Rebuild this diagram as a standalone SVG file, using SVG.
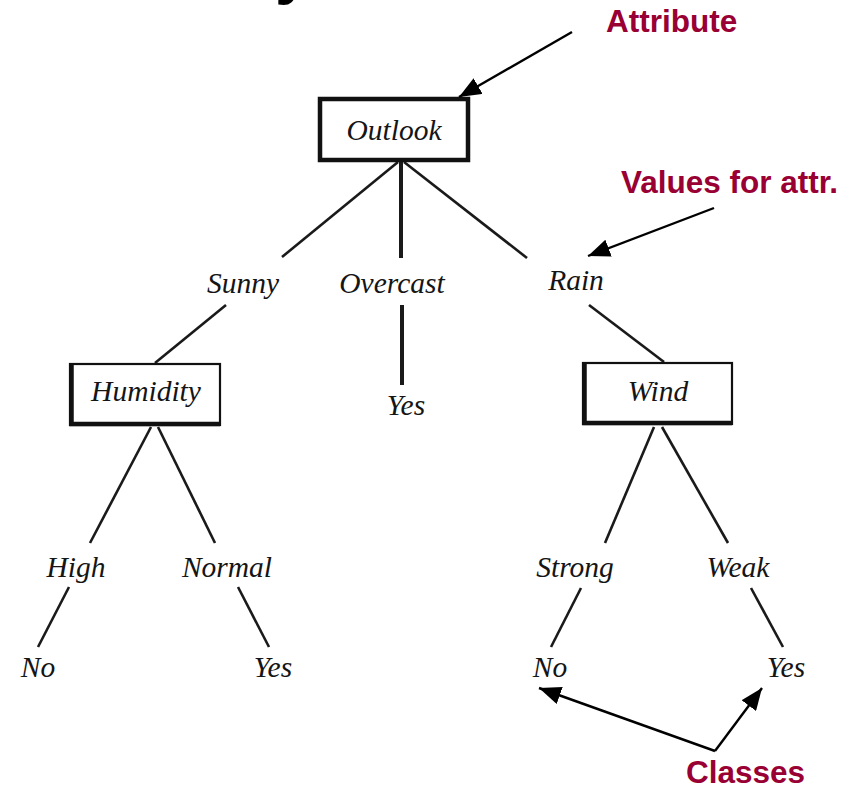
<svg xmlns="http://www.w3.org/2000/svg" width="859" height="788" viewBox="0 0 859 788">
  <style>
    .lbl { font-family: "Liberation Serif", "Times New Roman", serif; font-style: italic; font-size: 29.5px; fill: #151515; text-anchor: middle; }
    .note { font-family: "Liberation Sans", Arial, sans-serif; font-weight: bold; font-size: 31.5px; fill: #990033; }
    .edge { stroke: #1a1a1a; stroke-width: 2.6; fill: none; stroke-linecap: butt; }
    .thick { stroke-width: 4; }
    .box { fill: #ffffff; stroke: #111; stroke-width: 2.2; }
    .boxedge { stroke: #111; stroke-width: 4.5; fill: none; }
    .ptr { stroke: #000; stroke-width: 2.4; fill: none; }
  </style>
  <defs>
    <marker id="head" markerUnits="userSpaceOnUse" markerWidth="24" markerHeight="18" refX="22" refY="9" orient="auto">
      <path d="M0,0 L22,9 L0,18 Z" fill="#000"/>
    </marker>
  </defs>

  <rect width="859" height="788" fill="#ffffff"/>

  <!-- heading above the tree, clipped by the top edge -->
  <g id="title">
    <text x="275" y="-8" font-family="Liberation Sans, Arial, sans-serif" font-weight="bold" font-size="64" fill="#000">y</text>
  </g>

  <!-- tree branches -->
  <g id="connectors">
    <line class="edge" x1="398" y1="162" x2="282" y2="257"/>
    <line class="edge thick" x1="401" y1="162" x2="401" y2="258"/>
    <line class="edge" x1="404" y1="162" x2="527" y2="258"/>
    <line class="edge" x1="226" y1="305" x2="155" y2="363"/>
    <line class="edge thick" x1="402" y1="305" x2="402" y2="385"/>
    <line class="edge" x1="589" y1="305" x2="664" y2="362"/>
    <line class="edge" x1="151" y1="427" x2="90" y2="543"/>
    <line class="edge" x1="158" y1="427" x2="215" y2="543"/>
    <line class="edge" x1="69" y1="587" x2="38" y2="647"/>
    <line class="edge" x1="238" y1="587" x2="269" y2="647"/>
    <line class="edge" x1="654" y1="427" x2="605" y2="543"/>
    <line class="edge" x1="662" y1="427" x2="728" y2="543"/>
    <line class="edge" x1="581" y1="588" x2="551" y2="647"/>
    <line class="edge" x1="751" y1="588" x2="783" y2="647"/>
  </g>

  <!-- attribute nodes -->
  <g id="outlook">
    <rect x="320" y="99" width="148" height="61" fill="#fff" stroke="#111" stroke-width="4.5"/>
    <text class="lbl" x="394" y="140">Outlook</text>
  </g>
  <g id="humidity">
    <rect class="box" x="70" y="364" width="150" height="61"/>
    <path class="boxedge" d="M71.5,363 V424 H220"/>
    <text class="lbl" x="146" y="401">Humidity</text>
  </g>
  <g id="wind">
    <rect class="box" x="583" y="363" width="149" height="61"/>
    <path class="boxedge" d="M584.5,362 V423 H732"/>
    <text class="lbl" x="658" y="401">Wind</text>
  </g>

  <!-- branch values -->
  <g id="sunny"><text class="lbl" x="243" y="293">Sunny</text></g>
  <g id="overcast"><text class="lbl" x="392" y="293">Overcast</text></g>
  <g id="rain"><text class="lbl" x="576" y="290">Rain</text></g>
  <g id="high"><text class="lbl" x="76" y="577">High</text></g>
  <g id="normal"><text class="lbl" x="227" y="577">Normal</text></g>
  <g id="strong"><text class="lbl" x="575" y="577">Strong</text></g>
  <g id="weak"><text class="lbl" x="738" y="577">Weak</text></g>

  <!-- leaves -->
  <g id="yes-overcast"><text class="lbl" x="406" y="415">Yes</text></g>
  <g id="no-high"><text class="lbl" x="38" y="677">No</text></g>
  <g id="yes-normal"><text class="lbl" x="273" y="677">Yes</text></g>
  <g id="no-strong"><text class="lbl" x="550" y="677">No</text></g>
  <g id="yes-weak"><text class="lbl" x="786" y="677">Yes</text></g>

  <!-- annotations -->
  <g id="note-attribute">
    <text class="note" x="606" y="32">Attribute</text>
    <line class="ptr" x1="572" y1="32" x2="459" y2="97" marker-end="url(#head)"/>
  </g>
  <g id="note-values">
    <text class="note" x="621" y="193">Values for attr.</text>
    <line class="ptr" x1="714" y1="208" x2="588" y2="256" marker-end="url(#head)"/>
  </g>
  <g id="note-classes">
    <text class="note" x="686" y="783">Classes</text>
    <line class="ptr" x1="715" y1="751" x2="539" y2="688" marker-end="url(#head)"/>
    <line class="ptr" x1="715" y1="751" x2="762" y2="688" marker-end="url(#head)"/>
  </g>
</svg>
